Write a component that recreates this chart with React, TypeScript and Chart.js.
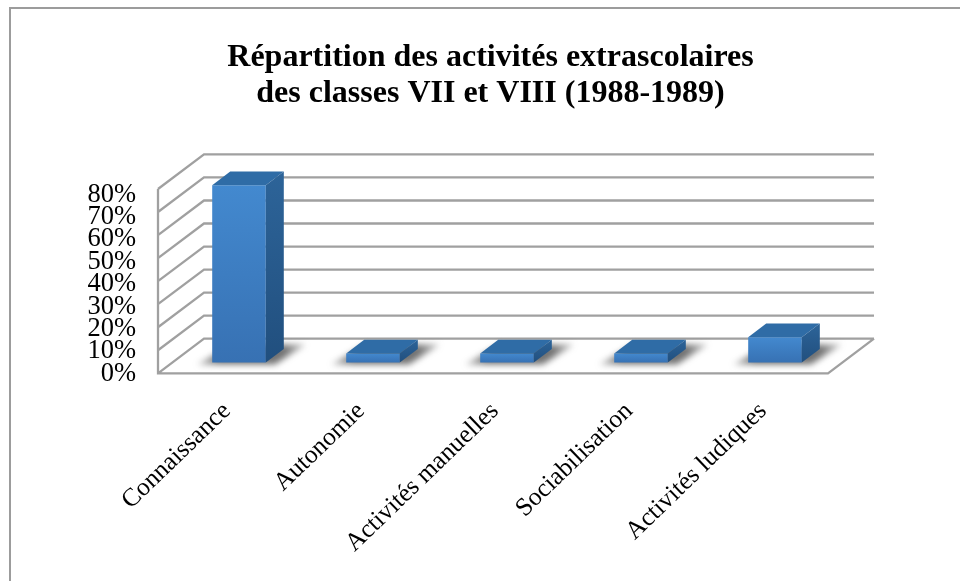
import React, { useEffect, useRef } from "react";
import { Chart, registerables } from "chart.js";

Chart.register(...registerables);

const categories = ["Connaissance", "Autonomie", "Activités manuelles", "Sociabilisation", "Activités ludiques"];
const shares = [77, 4, 4, 4, 11];
const tickValues = [0, 10, 20, 30, 40, 50, 60, 70, 80];
const titleLines = ["Répartition des activités extrascolaires", "des classes VII et VIII (1988-1989)"];

const SERIF = "'Liberation Serif', serif";
const GRID = "#a0a0a0";
const WALL = { dx: 46, dy: -34.6 };
const PLANE = { dx: 14, dy: -10.7 };
const BAR = { dx: 18, dy: -13.7 };

const scene = {
  id: "scene",
  beforeDraw(chart: any) {
    const { ctx } = chart;
    ctx.save();
    ctx.fillStyle = "#ffffff";
    ctx.fillRect(0, 0, chart.width, chart.height);
    ctx.fillStyle = "#9c9c9c";
    ctx.fillRect(9, 7, chart.width - 9, 2);
    ctx.fillRect(9, 7, 2, chart.height - 7);
    ctx.restore();
  },
  beforeDatasetsDraw(chart: any) {
    const { ctx, chartArea: a, scales } = chart;
    ctx.save();
    ctx.strokeStyle = GRID;
    ctx.lineWidth = 2.3;
    ctx.lineJoin = "miter";
    ctx.beginPath();
    tickValues.forEach((v) => {
      const y = scales.y.getPixelForValue(v);
      ctx.moveTo(a.left, y);
      ctx.lineTo(a.left + WALL.dx, y + WALL.dy);
      ctx.lineTo(a.right + WALL.dx, y + WALL.dy);
    });
    ctx.moveTo(a.left, a.top);
    ctx.lineTo(a.left, a.bottom);
    ctx.lineTo(a.right, a.bottom);
    ctx.lineTo(a.right + WALL.dx, a.bottom + WALL.dy);
    ctx.stroke();

    // soft floor shadows behind each bar
    const meta = chart.getDatasetMeta(0);
    ctx.filter = "blur(3px)";
    meta.data.forEach((bar: any) => {
      const l = bar.x - bar.width / 2 + PLANE.dx;
      const r = bar.x + bar.width / 2 + PLANE.dx;
      const b = bar.base + PLANE.dy;
      const g = ctx.createLinearGradient(l - 15, 0, r + 40, 0);
      g.addColorStop(0, "rgba(90,90,90,0.35)");
      g.addColorStop(0.2, "rgba(80,80,80,0.8)");
      g.addColorStop(0.8, "rgba(80,80,80,0.8)");
      g.addColorStop(1, "rgba(90,90,90,0.35)");
      ctx.fillStyle = g;
      ctx.beginPath();
      ctx.moveTo(l - 15, b + 2);
      ctx.lineTo(r + 9, b + 2);
      ctx.lineTo(r + 40, b - 18);
      ctx.lineTo(l + 20, b - 18);
      ctx.closePath();
      ctx.fill();
    });
    ctx.filter = "none";
    ctx.restore();
  },
  beforeDatasetDraw(chart: any) {
    chart.ctx.save();
    chart.ctx.translate(PLANE.dx, PLANE.dy);
  },
  afterDatasetDraw(chart: any) {
    const { ctx } = chart;
    const meta = chart.getDatasetMeta(0);
    meta.data.forEach((bar: any) => {
      const l = bar.x - bar.width / 2;
      const r = bar.x + bar.width / 2;
      const t = bar.y;
      const b = bar.base;
      ctx.fillStyle = "#2f6ca6";
      ctx.beginPath();
      ctx.moveTo(l, t);
      ctx.lineTo(l + BAR.dx, t + BAR.dy);
      ctx.lineTo(r + BAR.dx, t + BAR.dy);
      ctx.lineTo(r, t);
      ctx.closePath();
      ctx.fill();
      const g = ctx.createLinearGradient(0, t + BAR.dy, 0, b);
      g.addColorStop(0, "#2d6499");
      g.addColorStop(1, "#214f7e");
      ctx.fillStyle = g;
      ctx.beginPath();
      ctx.moveTo(r, t);
      ctx.lineTo(r + BAR.dx, t + BAR.dy);
      ctx.lineTo(r + BAR.dx, b + BAR.dy);
      ctx.lineTo(r, b);
      ctx.closePath();
      ctx.fill();
    });
    ctx.restore();
  },
};

export default function App() {
  const ref = useRef<HTMLCanvasElement>(null);
  useEffect(() => {
    const chart = new Chart(ref.current as HTMLCanvasElement, {
      type: "bar",
      plugins: [scene],
      data: {
        labels: categories,
        datasets: [
          {
            data: shares,
            clip: false,
            barPercentage: 0.4,
            categoryPercentage: 1,
            borderWidth: 0,
            backgroundColor: (c: any) => {
              const { chart: ch } = c;
              if (!ch.chartArea || !c.parsed) return "#3f80c4";
              const top = ch.scales.y.getPixelForValue(c.parsed.y);
              const bottom = ch.scales.y.getPixelForValue(0);
              const g = ch.ctx.createLinearGradient(0, top, 0, bottom);
              g.addColorStop(0, "#4389cf");
              g.addColorStop(1, "#3771b3");
              return g;
            },
          },
        ],
      } as any,
      options: {
        responsive: false,
        animation: false,
        layout: { padding: { left: 21, right: 0, top: 0, bottom: 0 } },
        plugins: {
          legend: { display: false },
          tooltip: { enabled: false },
          title: {
            display: true,
            text: titleLines,
            color: "#000000",
            font: { family: SERIF, size: 32, weight: "bold", lineHeight: 36 / 32 },
            padding: { top: 40, bottom: 77 },
          },
        },
        scales: {
          x: {
            grid: { display: false },
            border: { display: false },
            afterFit: (s: any) => {
              s.height = 581 - 373.3;
            },
            ticks: {
              autoSkip: false,
              minRotation: 44,
              maxRotation: 44,
              padding: 15,
              labelOffset: 2,
              color: "#000000",
              font: { family: SERIF, size: 25.5 },
            },
          },
          y: { display: false, min: 0, max: 80 },
          yLabels: {
            position: "left",
            min: 0.185,
            max: 82.55,
            grid: { display: false, drawTicks: false },
            border: { display: false },
            afterFit: (s: any) => {
              s.width = 137;
            },
            afterBuildTicks: (s: any) => {
              s.ticks = tickValues.map((value) => ({ value }));
            },
            ticks: {
              padding: 22,
              autoSkip: false,
              color: "#000000",
              font: { family: SERIF, size: 26.5 },
              callback: (v: any) => `${v}%`,
            },
          },
          gutter: {
            axis: "y",
            position: "right",
            min: 0,
            max: 80,
            grid: { display: false, drawTicks: false },
            border: { display: false },
            ticks: { display: false },
            afterFit: (s: any) => {
              s.width = 132;
            },
          },
        },
      } as any,
    });
    return () => chart.destroy();
  }, []);
  return (
    <div style={{ position: "fixed", left: 0, top: 0, width: 960, height: 581 }}>
      <canvas ref={ref} width={960} height={581} style={{ display: "block" }} />
    </div>
  );
}
